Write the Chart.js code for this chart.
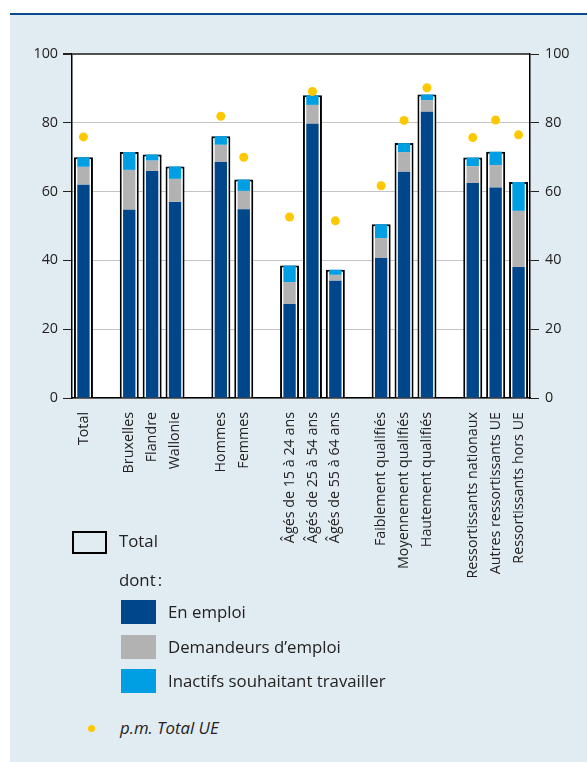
<!DOCTYPE html>
<html lang="fr">
<head>
<meta charset="utf-8">
<script src="https://cdn.jsdelivr.net/npm/chart.js@4/dist/chart.umd.min.js"></script>
<style>
  body { margin: 0; width: 587px; height: 762px; background: #fff; position: relative; overflow: hidden;
         font-family: "Open Sans", sans-serif; color: #222; }
  .panel { position: absolute; left: 10px; top: 13px; right: 0; bottom: 0; background: #e1ebf2;
           border-top: 2px solid #0b4a8f; }
  .chart-box { position: absolute; left: 0; top: 0; width: 587px; height: 600px; }
  .leg { position: absolute; font-size: 16.8px; line-height: 20px; white-space: nowrap; }
  .sw { position: absolute; width: 35px; height: 24px; }
</style>
</head>
<body>
<div class="panel"></div>
<div class="chart-box"><canvas id="chart"></canvas></div>

<div class="sw" style="left:72px;top:531px;height:23px;border:2px solid #000;box-sizing:border-box;"></div>
<div class="leg" style="left:119px;top:531px;">Total</div>
<div class="leg" style="left:119px;top:570px;">dont&#8239;:</div>
<div class="sw" style="left:121px;top:600px;background:#00468b;"></div>
<div class="leg" style="left:168px;top:602px;">En emploi</div>
<div class="sw" style="left:121px;top:635px;background:#b2b2b2;"></div>
<div class="leg" style="left:168px;top:637px;">Demandeurs d’emploi</div>
<div class="sw" style="left:121px;top:669px;background:#009fe3;"></div>
<div class="leg" style="left:168px;top:671px;">Inactifs souhaitant travailler</div>
<div style="position:absolute;left:88px;top:725px;width:7px;height:7px;border-radius:50%;background:#fcc800;"></div>
<div class="leg" style="left:120px;top:718px;font-style:italic;">p.m. Total UE</div>

<script>
// categories, with empty slots separating the groups
const categories = [
  'Total', '',
  'Bruxelles', 'Flandre', 'Wallonie', '',
  'Hommes', 'Femmes', '',
  'Âgés de 15 à 24 ans', 'Âgés de 25 à 54 ans', 'Âgés de 55 à 64 ans', '',
  'Faiblement qualifiés', 'Moyennement qualifiés', 'Hautement qualifiés', '',
  'Ressortissants nationaux', 'Autres ressortissants UE', 'Ressortissants hors UE'
];

const enEmploi    = [62.0, null, 54.7, 66.0, 57.0, null, 68.6, 54.9, null, 27.3, 79.7, 34.1, null, 40.7, 65.8, 83.2, null, 62.5, 61.2, 38.1];
const demandeurs  = [ 5.2, null, 11.6,  3.0,  6.7, null,  5.0,  5.3, null,  6.4,  5.5,  1.7, null,  5.8,  5.7,  3.4, null,  4.9,  6.5, 16.3];
const inactifs    = [ 2.8, null,  5.2,  1.8,  3.6, null,  2.5,  3.3, null,  4.8,  2.8,  1.5, null,  4.0,  2.6,  1.6, null,  2.5,  3.9,  8.4];
const totalBE     = [70.0, null, 71.5, 70.8, 67.3, null, 76.1, 63.5, null, 38.5, 88.0, 37.3, null, 50.5, 74.1, 88.2, null, 69.9, 71.6, 62.8];
const totalUE     = [75.9, null, null, null, null, null, 81.9, 70.0, null, 52.6, 89.1, 51.5, null, 61.7, 80.7, 90.2, null, 75.7, 80.8, 76.5];

const yTicks = [0, 20, 40, 60, 80, 100];

const FONT = { family: '"Open Sans", sans-serif', size: 14.3 };

// white plot background
const plotFill = {
  id: 'plotFill',
  beforeDraw(chart) {
    const { ctx, chartArea: a } = chart;
    ctx.save();
    ctx.fillStyle = '#fff';
    ctx.fillRect(a.left, a.top, a.right - a.left, a.bottom - a.top);
    ctx.restore();
  }
};

function partBar(label, data, color) {
  return {
    type: 'bar', label, data,
    backgroundColor: color,
    stack: 'parts',
    grouped: false,
    barPercentage: 0.54,
    categoryPercentage: 1,
    order: 1
  };
}

new Chart(document.getElementById('chart'), {
  data: {
    labels: categories,
    datasets: [
      partBar('En emploi', enEmploi, '#00468b'),
      partBar('Demandeurs d’emploi', demandeurs, '#b2b2b2'),
      partBar('Inactifs souhaitant travailler', inactifs, '#009fe3'),
      {
        type: 'bar', label: 'Total', data: totalBE,
        backgroundColor: '#fff',
        borderColor: '#000',
        borderWidth: 2,
        stack: 'total',
        grouped: false,
        barPercentage: 0.83,
        categoryPercentage: 1,
        order: 2
      },
      {
        type: 'line', label: 'p.m. Total UE', data: totalUE,
        showLine: false,
        stack: 'ue',
        pointRadius: 4.5,
        pointBorderWidth: 0,
        pointBackgroundColor: '#fcc800',
        order: 0
      }
    ]
  },
  options: {
    responsive: true,
    maintainAspectRatio: false,
    animation: false,
    layout: { padding: { top: 54, left: 0, right: 0, bottom: 0 } },
    plugins: { legend: { display: false }, tooltip: { enabled: false } },
    scales: {
      x: {
        type: 'category',
        offset: true,
        grid: { display: false, drawTicks: false },
        border: { color: '#000', width: 1.5 },
        ticks: {
          autoSkip: false, minRotation: 90, maxRotation: 90,
          padding: 14, color: '#222', font: FONT
        },
        afterFit: s => { s.height = 202; }
      },
      y: {
        position: 'left',
        stacked: true,
        min: 0, max: 100,
        afterBuildTicks: s => { s.ticks = yTicks.map(v => ({ value: v })); },
        grid: {
          color: c => c.tick && c.tick.value === 100 ? '#505050' : '#c4c4c4',
          lineWidth: c => c.tick && c.tick.value === 100 ? 2 : 1,
          tickColor: '#222',
          tickLength: 9
        },
        border: { color: '#000', width: 1.5 },
        ticks: { color: '#222', font: FONT, padding: 5 },
        afterFit: s => { s.width = 72; }
      },
      y2: {
        position: 'right',
        min: 0, max: 100,
        afterBuildTicks: s => { s.ticks = yTicks.map(v => ({ value: v })); },
        grid: { drawOnChartArea: false, tickColor: '#222', tickLength: 9 },
        border: { color: '#000', width: 1.5 },
        ticks: { color: '#222', font: FONT, padding: 6 },
        afterFit: s => { s.width = 57; }
      }
    }
  },
  plugins: [plotFill]
});
</script>
</body>
</html>
